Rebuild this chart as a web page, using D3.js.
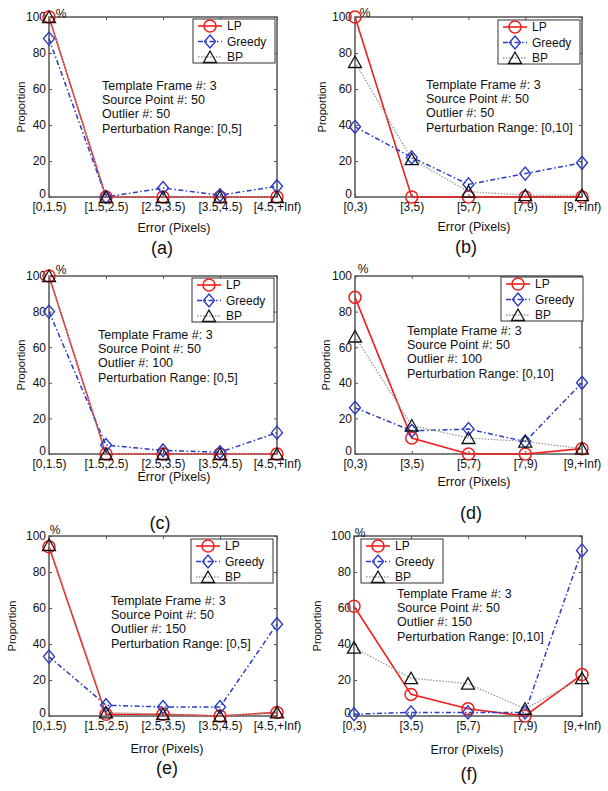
<!DOCTYPE html>
<html><head><meta charset="utf-8">
<script src="https://cdn.jsdelivr.net/npm/d3@7"></script>
<style>
html,body{margin:0;padding:0;background:#fff;}
svg{display:block;font-family:"Liberation Sans",Arial,Helvetica,sans-serif;}
</style></head>
<body>
<svg id="chart" width="608" height="791"></svg>
<script>
// ---- data ----
const categoriesFine = ["[0,1.5)", "[1.5,2.5)", "[2.5,3.5)", "[3.5,4.5)", "[4.5,+Inf)"];
const categoriesCoarse = ["[0,3)", "[3,5)", "[5,7)", "[7,9)", "[9,+Inf)"];
const yTicks = [0, 20, 40, 60, 80, 100];
const seriesNames = ["LP", "Greedy", "BP"];
const panelLetters = ["a", "b", "c", "d", "e", "f"];
const templateFrames = [3, 3, 3, 3, 3, 3];
const sourcePoints = [50, 50, 50, 50, 50, 50];
const outliers = [50, 50, 100, 100, 150, 150];
const perturbationRanges = ["[0,5]", "[0,10]", "[0,5]", "[0,10]", "[0,5]", "[0,10]"];

const lpA = [100, 0, 0, 0, 0];
const greedyA = [88, 0, 5, 1, 6];
const bpA = [100, 0, 0, 0, 0];

const lpB = [100, 0, 0, 0, 0];
const greedyB = [39, 22, 7, 13, 19];
const bpB = [75, 21, 3, 1, 1];

const lpC = [100, 0, 0, 0, 0];
const greedyC = [80, 5, 2, 1, 12];
const bpC = [100, 0, 0, 0, 0];

const lpD = [88, 9, 0, 0, 3];
const greedyD = [26, 13, 14, 7, 40];
const bpD = [66, 16, 9, 7, 3];

const lpE = [94, 1, 1, 0, 2];
const greedyE = [33, 6, 5, 5, 51];
const bpE = [95, 2, 1, 0, 2];

const lpF = [61, 12, 4, 0, 23];
const greedyF = [1, 2, 2, 2, 92];
const bpF = [38, 21, 18, 4, 21];

// ---- layout (positions only) ----
const layout = [
  {L:49, R:277, T:17, B:197, lg:[193,19], an:[102,86], xl:[174,228], yl:21, cap:[162,248], pct:[61,14]},
  {L:355, R:582, T:17, B:197, lg:[498,20], an:[426,85], xl:[474,227], yl:322, cap:[466,247], pct:[365,13]},
  {L:49, R:277, T:276, B:454, lg:[192,278], an:[98,335], xl:[174,477], yl:21, cap:[160,523], pct:[61,270]},
  {L:355, R:582, T:276, B:454, lg:[501,277], an:[407,331], xl:[474,482], yl:326, cap:[471,513], pct:[363,269]},
  {L:49, R:277, T:536, B:716, lg:[191,539], an:[111,601], xl:[167,749], yl:12, cap:[167,768], pct:[55,530]},
  {L:354, R:582, T:536, B:716, lg:[361,539], an:[397,594], xl:[467,750], yl:317, cap:[469,774], pct:[360,533]}
];

const panels = [
  {cats: categoriesFine, series: [lpA, greedyA, bpA]},
  {cats: categoriesCoarse, series: [lpB, greedyB, bpB]},
  {cats: categoriesFine, series: [lpC, greedyC, bpC]},
  {cats: categoriesCoarse, series: [lpD, greedyD, bpD]},
  {cats: categoriesFine, series: [lpE, greedyE, bpE]},
  {cats: categoriesCoarse, series: [lpF, greedyF, bpF]}
];

const styles = [
  {color:"#f01e1e", width:1.6, dash:null, marker:"circle", mcolor:"#f01e1e"},
  {color:"#2a3bc4", width:1.5, dash:"5,2.5,1.5,2.5", marker:"diamond", mcolor:"#2a3bc4"},
  {color:"#9a9a9a", width:1.3, dash:"1.5,1.5", marker:"triangle", mcolor:"#111"}
];

const svg = d3.select("#chart");
const textColor = "#111";
const axisColor = "#555";

function drawMarker(g, type, cx, cy, color) {
  if (type === "circle") {
    g.append("circle").attr("cx", cx).attr("cy", cy).attr("r", 6)
      .attr("fill", "none").attr("stroke", color).attr("stroke-width", 1.5);
  } else if (type === "diamond") {
    g.append("path").attr("d", `M${cx},${cy-6.5}L${cx+5.5},${cy}L${cx},${cy+6.5}L${cx-5.5},${cy}Z`)
      .attr("fill", "none").attr("stroke", color).attr("stroke-width", 1.4);
  } else {
    g.append("path").attr("d", `M${cx},${cy-6}L${cx+6.5},${cy+5.5}L${cx-6.5},${cy+5.5}Z`)
      .attr("fill", "none").attr("stroke", color).attr("stroke-width", 1.3);
  }
}

panels.forEach((p, i) => {
  const lo = layout[i];
  const g = svg.append("g");
  const x = d3.scalePoint().domain(p.cats).range([lo.L, lo.R]).padding(0);
  const y = d3.scaleLinear().domain([0, 100]).range([lo.B, lo.T]);

  // box
  g.append("rect").attr("x", lo.L).attr("y", lo.T).attr("width", lo.R - lo.L).attr("height", lo.B - lo.T)
    .attr("fill", "#fff").attr("stroke", axisColor).attr("stroke-width", 1.5);

  // axes
  const ax = g.append("g").attr("transform", `translate(0,${lo.B})`)
    .call(d3.axisBottom(x).tickSizeInner(-3).tickSizeOuter(0).tickPadding(5));
  const ay = g.append("g").attr("transform", `translate(${lo.L},0)`)
    .call(d3.axisLeft(y).tickValues(yTicks).tickSizeInner(-3).tickSizeOuter(0).tickPadding(3));
  const axt = g.append("g").attr("transform", `translate(0,${lo.T})`)
    .call(d3.axisTop(x).tickSizeInner(-3).tickSizeOuter(0).tickFormat(""));
  const ayr = g.append("g").attr("transform", `translate(${lo.R},0)`)
    .call(d3.axisRight(y).tickValues(yTicks).tickSizeInner(-3).tickSizeOuter(0).tickFormat(""));
  [ax, ay, axt, ayr].forEach(a => {
    a.select(".domain").remove();
    a.selectAll("line").attr("stroke", axisColor).attr("stroke-width", 1);
    a.selectAll("text").attr("fill", textColor).attr("font-size", 12)
      .attr("font-family", "Liberation Sans, Arial, sans-serif");
  });
  // lift the "0" y label slightly so it sits just above the x labels
  ay.selectAll(".tick").filter(d => d === 0).select("text").attr("dy", "0em");

  // series lines
  p.series.forEach((vals, si) => {
    const st = styles[si];
    const line = d3.line().x((d, k) => x(p.cats[k])).y(d => y(d));
    const path = g.append("path").datum(vals).attr("d", line)
      .attr("fill", "none").attr("stroke", st.color).attr("stroke-width", st.width);
    if (st.dash) path.attr("stroke-dasharray", st.dash);
  });
  // markers (drawn after lines, in series order)
  p.series.forEach((vals, si) => {
    const st = styles[si];
    const mg = g.append("g");
    vals.forEach((v, k) => drawMarker(mg, st.marker, x(p.cats[k]), y(v), st.mcolor));
  });

  // percent sign
  g.append("text").attr("x", lo.pct[0]).attr("y", lo.pct[1]).attr("dominant-baseline", "central")
    .attr("text-anchor", "middle").attr("font-size", 12).attr("fill", textColor).text("%");

  // axis titles
  g.append("text").attr("x", lo.xl[0]).attr("y", lo.xl[1]).attr("dominant-baseline", "central")
    .attr("text-anchor", "middle").attr("font-size", 12.5).attr("fill", textColor).text("Error (Pixels)");
  g.append("text").attr("transform", `translate(${lo.yl},${(lo.T + lo.B) / 2}) rotate(-90)`)
    .attr("dominant-baseline", "central").attr("text-anchor", "middle")
    .attr("font-size", 11).attr("fill", textColor).text("Proportion");

  // annotation
  const annLines = [
    `Template Frame #: ${templateFrames[i]}`,
    `Source Point #: ${sourcePoints[i]}`,
    `Outlier #: ${outliers[i]}`,
    `Perturbation Range: ${perturbationRanges[i]}`
  ];
  annLines.forEach((t, k) => {
    g.append("text").attr("x", lo.an[0]).attr("y", lo.an[1] + k * 14.2).attr("dominant-baseline", "central")
      .attr("font-size", 12.5).attr("fill", textColor).text(t);
  });

  // legend
  const lg = g.append("g").attr("transform", `translate(${lo.lg[0]},${lo.lg[1]})`);
  lg.append("rect").attr("width", 82).attr("height", 44).attr("fill", "#fff")
    .attr("stroke", "#333").attr("stroke-width", 1);
  seriesNames.forEach((name, si) => {
    const st = styles[si];
    const yy = 7 + si * 15.5;
    const ln = lg.append("line").attr("x1", 5).attr("x2", 29).attr("y1", yy).attr("y2", yy)
      .attr("stroke", st.color).attr("stroke-width", st.width);
    if (st.dash) ln.attr("stroke-dasharray", st.dash);
    drawMarker(lg, st.marker, 17, yy, st.mcolor);
    lg.append("text").attr("x", 34).attr("y", yy).attr("dominant-baseline", "central")
      .attr("font-size", 12).attr("fill", textColor).text(name);
  });

  // caption
  g.append("text").attr("x", lo.cap[0]).attr("y", lo.cap[1]).attr("dominant-baseline", "central")
    .attr("text-anchor", "middle").attr("font-size", 18).attr("fill", textColor)
    .text(`(${panelLetters[i]})`);
});
</script>
</body></html>
